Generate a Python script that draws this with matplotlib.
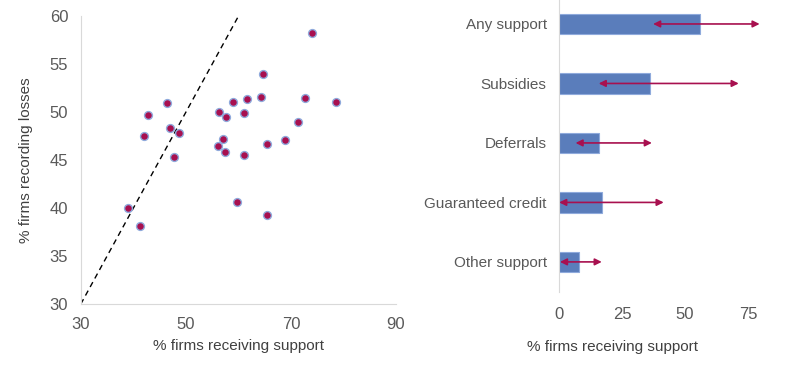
import matplotlib.pyplot as plt

plt.rcParams['font.family'] = ['Liberation Sans', 'DejaVu Sans']

# Left panel: one point per country
support_pct = [74.1, 64.7, 64.3, 72.7, 78.5, 61.6, 58.9, 46.4, 56.4, 61.0,
               57.7, 42.8, 71.3, 47.0, 48.7, 42.1, 57.0, 68.8, 65.4, 56.2,
               57.4, 47.7, 61.0, 59.8, 65.4, 38.9, 41.3]
losses_pct = [58.3, 54.0, 51.6, 51.5, 51.1, 51.35, 51.1, 51.0, 50.0, 49.9,
              49.5, 49.7, 49.0, 48.3, 47.8, 47.5, 47.2, 47.05, 46.7, 46.5,
              45.8, 45.35, 45.5, 40.6, 39.3, 40.0, 38.1]

# Right panel: support types
categories = ["Any support", "Subsidies", "Deferrals", "Guaranteed credit", "Other support"]
bar_values = [56.1, 36.1, 15.9, 16.9, 7.9]
range_low = [37.3, 15.7, 6.5, 0.0, 0.3]
range_high = [79.6, 71.3, 36.8, 41.5, 16.9]

text_col = "#404040"
tick_col = "#595959"
spine_col = "#d9d9d9"
dot_col = "#a8104f"
bar_col = "#5a7dbb"

fig = plt.figure(figsize=(8, 3.69), dpi=100, facecolor='white')

# ---- scatter ----
ax1 = fig.add_axes([0.101, 0.176, 0.394, 0.780])
ax1.plot([30, 60], [30, 60], linestyle=(0, (4, 3)), color='black', linewidth=1, zorder=1)
ax1.scatter(support_pct, losses_pct, s=32, color=dot_col, edgecolor='#8faadc',
            linewidth=1, zorder=3)
ax1.set_xlim(30, 90)
ax1.set_ylim(30, 60)
ax1.set_xticks([30, 50, 70, 90])
ax1.set_yticks(range(30, 61, 5))
ax1.tick_params(length=0, labelsize=12, labelcolor=tick_col)
ax1.tick_params(axis='x', pad=9)
ax1.tick_params(axis='y', pad=9)
for side in ['top', 'right']:
    ax1.spines[side].set_visible(False)
for side in ['left', 'bottom']:
    ax1.spines[side].set_color(spine_col)
ax1.set_xlabel("% firms receiving support", fontsize=11, color=text_col, labelpad=5)
ax1.set_ylabel("% firms recording losses", fontsize=11, color=text_col, labelpad=12)

# ---- bars ----
ax2 = fig.add_axes([0.699, 0.209, 0.299, 0.791])
ypos = list(range(len(categories)))
ax2.barh(ypos, bar_values, height=0.34, color=bar_col, edgecolor='#8faadc',
         linewidth=0.8, zorder=2)
for y, lo, hi in zip(ypos, range_low, range_high):
    ax2.annotate("", xy=(hi, y), xytext=(lo, y),
                 arrowprops=dict(arrowstyle='<|-|>', color=dot_col, lw=1.2,
                                 mutation_scale=10, shrinkA=0, shrinkB=0),
                 zorder=3, annotation_clip=False)
ax2.set_xlim(0, 95)
ax2.set_ylim(4.504, -0.403)
ax2.set_yticks(ypos)
ax2.set_yticklabels(categories)
ax2.set_xticks([0, 25, 50, 75])
ax2.tick_params(length=0, labelsize=11, labelcolor=tick_col)
ax2.tick_params(axis='x', pad=11, labelsize=12)
ax2.tick_params(axis='y', pad=9)
for side in ['top', 'right', 'bottom']:
    ax2.spines[side].set_visible(False)
ax2.spines['left'].set_color(spine_col)
ax2.set_xlabel("% firms receiving support", fontsize=11, color=text_col)
ax2.xaxis.set_label_coords(0.224, -0.165)

fig.savefig("out.png", dpi=100, facecolor='white')
